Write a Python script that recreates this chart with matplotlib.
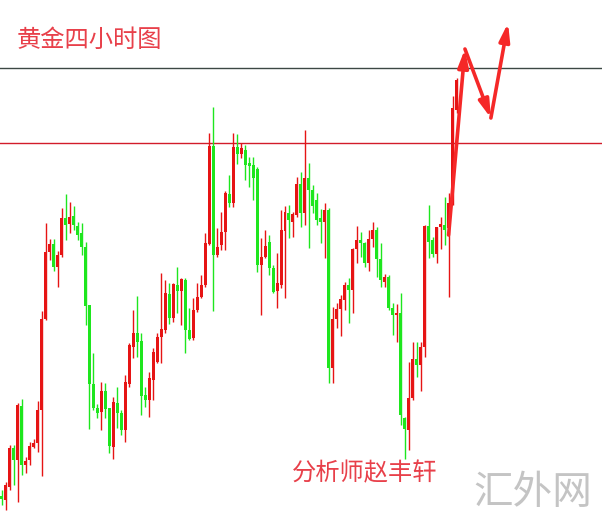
import matplotlib.pyplot as plt

plt.rcParams['font.family'] = ['Noto Sans CJK SC', 'DejaVu Sans']

# 4-hour candles (arbitrary price units)
opens = [29, 25, 38, 77, 65, 119, 60, 65, 78, 82, 115, 206, 273, 281, 258, 270, 307, 301, 309, 299,
         292, 278, 220, 141, 117, 113, 134, 117, 78, 122, 112, 95, 141, 178, 192, 184, 130, 125, 145, 163,
         188, 195, 231, 207, 240, 234, 245, 195, 187, 215, 228, 240, 281, 379, 270, 280, 293, 331, 322, 378,
         371, 375, 362, 360, 356, 260, 268, 283, 257, 234, 240, 294, 312, 303, 310, 341, 312, 347, 335, 325,
         307, 303, 315, 157, 206, 216, 225, 240, 235, 276, 285, 282, 262, 286, 295, 266, 243, 248, 217, 210,
         212, 107, 95, 127, 166, 160, 178, 299, 285, 271, 298, 300, 297, 322, 415]
highs = [35, 43, 80, 80, 122, 126, 68, 83, 86, 124, 214, 302, 286, 286, 274, 317, 331, 323, 319, 303,
         302, 283, 220, 172, 121, 143, 142, 117, 128, 138, 115, 150, 182, 215, 229, 192, 138, 153, 177, 192,
         252, 245, 242, 242, 258, 247, 247, 217, 227, 242, 250, 292, 392, 418, 297, 313, 334, 350, 392, 391,
         382, 380, 368, 368, 358, 287, 295, 290, 260, 272, 315, 319, 320, 313, 348, 353, 395, 362, 340, 332,
         316, 322, 317, 218, 222, 230, 243, 247, 277, 299, 293, 283, 295, 303, 298, 282, 251, 250, 222, 221,
         232, 108, 163, 183, 183, 183, 300, 320, 288, 298, 308, 328, 332, 429, 447]
lows = [20, 15, 35, 40, 23, 50, 52, 60, 77, 73, 49, 205, 265, 254, 238, 268, 285, 292, 295, 285,
        270, 200, 96, 115, 107, 95, 107, 72, 66, 97, 90, 83, 138, 167, 168, 110, 118, 108, 125, 162,
        162, 192, 201, 203, 212, 200, 172, 185, 185, 213, 227, 238, 280, 214, 268, 275, 275, 318, 318, 361,
        367, 345, 338, 325, 253, 210, 267, 250, 232, 217, 237, 227, 287, 288, 308, 298, 300, 277, 312, 300,
        282, 267, 142, 142, 197, 189, 215, 202, 212, 262, 268, 258, 254, 278, 248, 238, 238, 215, 190, 183,
        100, 66, 75, 125, 148, 134, 168, 267, 268, 262, 276, 280, 228, 320, 412]
closes = [26, 40, 77, 65, 120, 60, 64, 79, 82, 115, 206, 273, 281, 258, 270, 307, 300, 308, 300, 290,
          278, 219, 141, 117, 112, 134, 116, 79, 123, 112, 95, 143, 180, 192, 183, 129, 125, 147, 173, 188,
          196, 232, 207, 241, 234, 246, 195, 186, 215, 228, 240, 282, 379, 270, 278, 293, 332, 322, 378, 371,
          377, 360, 359, 347, 260, 268, 279, 257, 233, 242, 295, 313, 305, 311, 341, 312, 347, 335, 319, 305,
          303, 315, 157, 206, 216, 226, 240, 235, 276, 285, 282, 262, 286, 295, 266, 245, 248, 217, 210, 212,
          110, 96, 127, 166, 160, 178, 299, 283, 271, 298, 301, 295, 322, 417, 445]

resistance_levels = [457, 382]
# hand-drawn forecast path (candle index, price)
path_x = [112.0, 116.1, 122.6, 126.9]
path_y = [290, 476, 407, 502]

UP = '#e61414'
DOWN = '#1ee61e'

fig = plt.figure(figsize=(6.02, 5.25), dpi=100)
ax = fig.add_axes([0, 0, 1, 1])
ax.set_xlim(-0.43, 150.45)
ax.set_ylim(0, 525)
ax.axis('off')

ax.axhline(resistance_levels[0], color='#3c4844', lw=1)
ax.axhline(resistance_levels[1], color='#d21c2a', lw=1)

for i, (o, h, l, c) in enumerate(zip(opens, highs, lows, closes)):
    col = UP if c >= o else DOWN
    ax.vlines(i, l, h, color=col, lw=1)
    bottom = min(o, c)
    height = max(abs(c - o), 1.5)
    ax.bar(i, height, bottom=bottom, width=0.75, color=col, linewidth=0)

# arrows drawn by hand on the original
for k in range(len(path_x) - 1):
    ax.annotate('', xy=(path_x[k + 1], path_y[k + 1]), xytext=(path_x[k], path_y[k]),
                arrowprops=dict(arrowstyle='-|>,head_length=0.75,head_width=0.22',
                                color='#f52828', lw=2.6, mutation_scale=14,
                                shrinkA=0, shrinkB=0))

ax.text(0.028, 0.924, '黄金四小时图', transform=ax.transAxes, color='#e8404a',
        fontsize=17.5, va='center', ha='left')
ax.text(0.485, 0.099, '分析师赵丰轩', transform=ax.transAxes, color='#e8404a',
        fontsize=17.5, va='center', ha='left')
ax.text(0.786, 0.061, '汇外网', transform=ax.transAxes, color='#c4c4c4',
        fontsize=28.5, va='center', ha='left', fontweight='light')

fig.savefig('out.png', dpi=100)
